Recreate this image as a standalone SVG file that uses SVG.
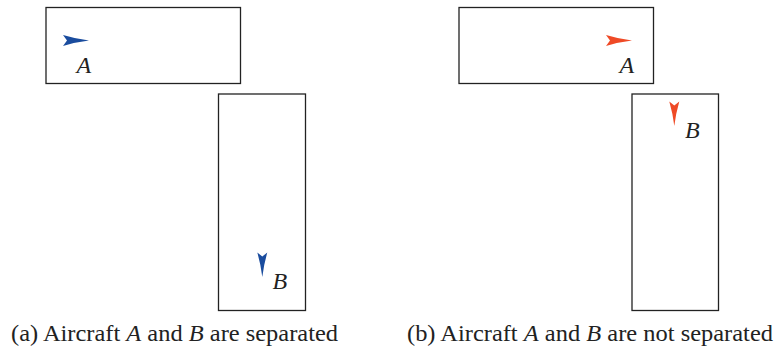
<svg xmlns="http://www.w3.org/2000/svg" width="774" height="348" viewBox="0 0 774 348">
<style>
.box{fill:#fff;stroke:#222;stroke-width:1.3}
.lbl{font-family:'Liberation Serif','Times New Roman',serif;font-style:italic;font-size:24px;fill:#222}
.cap{font-family:'Liberation Serif','Times New Roman',serif;font-size:24px;fill:#222}
.cap tspan.i{font-style:italic}
.blue{fill:#1a4c9e}
.red{fill:#ef4a26}
</style>
<defs>
<path id="dartR" d="M26,5.5 Q13,4 0,0 L4,5.5 L0,11 Q13,7 26,5.5 Z"/>
<path id="dartD" d="M5,24.5 Q3.5,12 0,0 L5,4 L10,0 Q6.5,12 5,24.5 Z"/>
</defs>
<rect width="774" height="348" fill="#fff"/>
<g id="panel-a">
<g id="a-boxA"><rect class="box" x="46" y="7.5" width="194.5" height="76"/></g>
<g id="a-boxB"><rect class="box" x="218.5" y="94" width="87" height="216.5"/></g>
<g id="a-aircraftA"><use href="#dartR" class="blue" x="63" y="35"/><text class="lbl" x="76.5" y="72.7">A</text></g>
<g id="a-aircraftB"><use href="#dartD" class="blue" x="257.3" y="252.5"/><text class="lbl" x="272.5" y="289.3">B</text></g>
</g>
<g id="panel-b">
<g id="b-boxA"><rect class="box" x="459" y="7.5" width="194.5" height="76"/></g>
<g id="b-boxB"><rect class="box" x="632" y="94" width="86.5" height="216.5"/></g>
<g id="b-aircraftA"><use href="#dartR" class="red" x="606" y="35"/><text class="lbl" x="619.5" y="72.7">A</text></g>
<g id="b-aircraftB"><use href="#dartD" class="red" x="669.3" y="101.5"/><text class="lbl" x="685" y="138.3">B</text></g>
</g>
<g id="connectors"/>
<g id="captions">
<text class="cap" x="11" y="340.5" textLength="327" lengthAdjust="spacingAndGlyphs">(a) Aircraft <tspan class="i">A</tspan> and <tspan class="i">B</tspan> are separated</text>
<text class="cap" x="407" y="340.5" textLength="366" lengthAdjust="spacingAndGlyphs">(b) Aircraft <tspan class="i">A</tspan> and <tspan class="i">B</tspan> are not separated</text>
</g>
</svg>
